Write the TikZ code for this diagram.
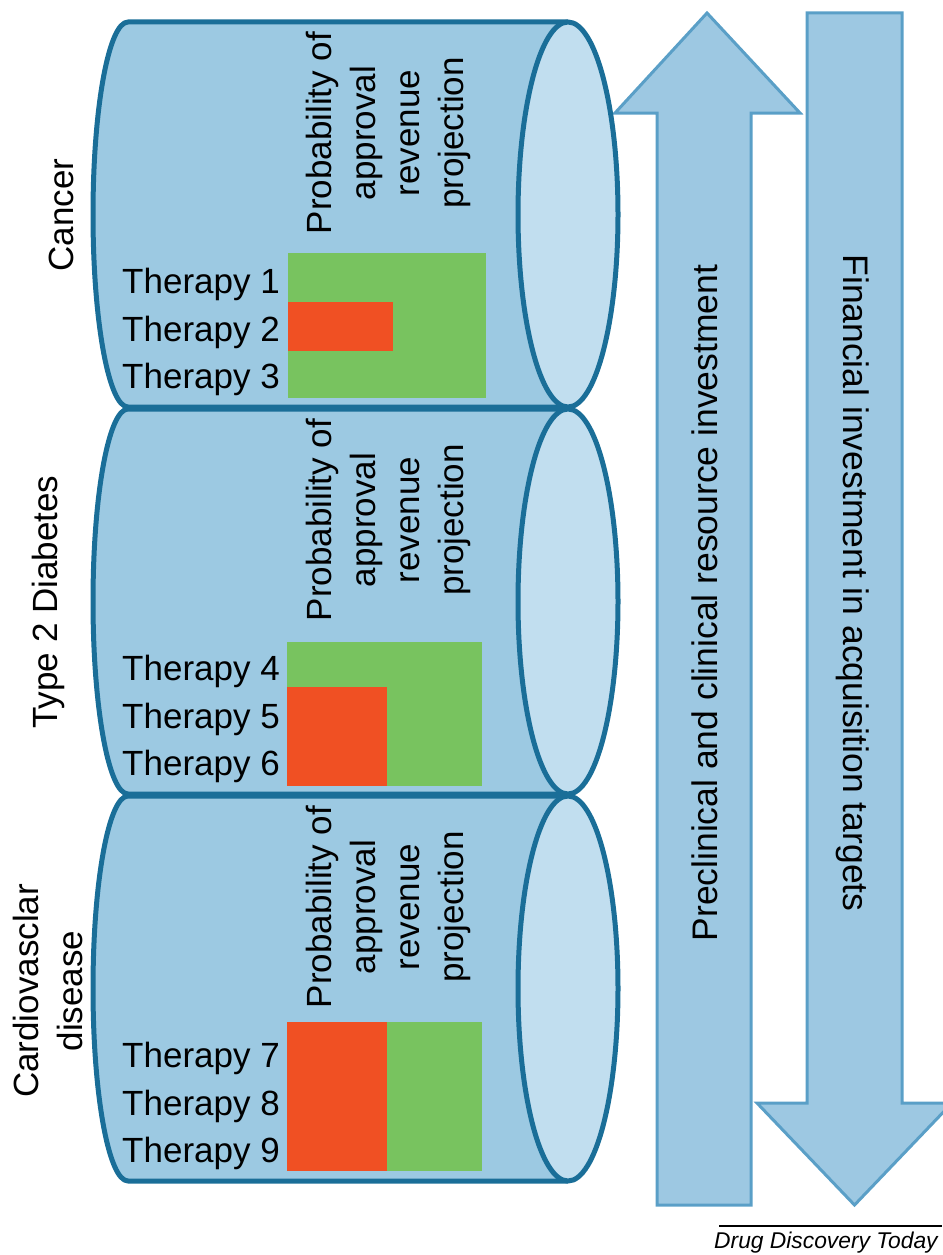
\documentclass[tikz,border=0pt]{standalone}
\usepackage{fontspec}
\setmainfont{Liberation Sans}
\definecolor{cBody}{HTML}{9CC9E2}
\definecolor{cFace}{HTML}{C1DEEF}
\definecolor{cEdge}{HTML}{1A6E98}
\definecolor{cArrFill}{HTML}{9DC8E2}
\definecolor{cArrEdge}{HTML}{5A9FC7}
\definecolor{cGreen}{HTML}{78C35F}
\definecolor{cRed}{HTML}{F05023}
\newcommand\mytxt{\fontsize{35}{44}\selectfont}
\newcommand\mycan[1]{%
  \pgfmathsetmacro\ct{-#1}%
  \pgfmathsetmacro\cb{-#1-385}%
  \pgfmathsetmacro\cc{-#1-192.5}%
  \fill[cBody] (128,\ct) rectangle (568,\cb);
  \fill[cBody] (128,\cc) ellipse[x radius=35,y radius=192.5];
  \draw[canedge] (568,\ct) -- (128,\ct) arc[start angle=90,end angle=270,x radius=35,y radius=192.5] -- (568,\cb);
  \draw[canedge,fill=cFace] (568,\cc) ellipse[x radius=50,y radius=192.5];
}
\begin{document}
\begin{tikzpicture}[x=1pt,y=1pt,
  canedge/.style={draw=cEdge,line width=5pt,line join=round},
  bigarrow/.style={fill=cArrFill,draw=cArrEdge,line width=3pt,line join=miter},
  lbl/.style={font=\mytxt,inner sep=0pt,text=black},
  thlbl/.style={lbl,anchor=base west},
  vlbl/.style={lbl,rotate=90,align=center}]
\useasboundingbox (0,0) rectangle (942,-1255);
% big arrows
\draw[bigarrow] (657,-1205) -- (657,-113) -- (615,-113) -- (707,-13) -- (800,-113) -- (751,-113) -- (751,-1205) -- cycle;
\draw[bigarrow] (807,-13) -- (902,-13) -- (902,-1103) -- (952,-1103) -- (854.5,-1205) -- (757,-1103) -- (807,-1103) -- cycle;
\node[lbl,rotate=90,font=\fontsize{35.5}{44}\selectfont] (pre) at (705,-603) {Preclinical and clinical resource investment};
\node[lbl,rotate=-90,font=\fontsize{35.5}{44}\selectfont] (fin) at (853,-583) {Financial investment in acquisition targets};
% cylinders
\mycan{22}
\mycan{409}
\mycan{796}
% bars
\fill[cGreen] (288,-253) rectangle (486,-398);
\fill[cRed] (288,-302) rectangle (393,-351);
\fill[cGreen] (287,-642) rectangle (482,-786);
\fill[cRed] (287,-687) rectangle (387,-786);
\fill[cGreen] (287,-1022) rectangle (482,-1171);
\fill[cRed] (287,-1022) rectangle (387,-1171);
% labels
\node[vlbl] (p1) at (388,-133) {Probability of\\approval\\revenue\\projection};
\node[vlbl] (p2) at (388,-520) {Probability of\\approval\\revenue\\projection};
\node[vlbl] (p3) at (388,-907) {Probability of\\approval\\revenue\\projection};
\node[thlbl] (t1) at (122,-293) {Therapy 1};
\node[thlbl] (t2) at (122,-341) {Therapy 2};
\node[thlbl] (t3) at (122,-388) {Therapy 3};
\node[thlbl] (t4) at (122,-680) {Therapy 4};
\node[thlbl] (t5) at (122,-728) {Therapy 5};
\node[thlbl] (t6) at (122,-775) {Therapy 6};
\node[thlbl] (t7) at (122,-1067) {Therapy 7};
\node[thlbl] (t8) at (122,-1115) {Therapy 8};
\node[thlbl] (t9) at (122,-1162) {Therapy 9};
\node[vlbl] (d1) at (61,-215) {Cancer};
\node[vlbl] (d2) at (48,-602) {Type 2 Diabetes};
\node[vlbl] (d3) at (48,-991) {Cardiovasclar\\disease};
% credit
\coordinate (rl) at (719,-1226);
\coordinate (rr) at (942,-1226);
\draw[black,line width=1.2pt] (rl) -- (rr);
\node[anchor=base west,inner sep=0pt,font=\fontsize{22.8}{28}\selectfont\itshape] (ddt) at (714,-1248) {Drug Discovery Today};
\end{tikzpicture}
\end{document}
